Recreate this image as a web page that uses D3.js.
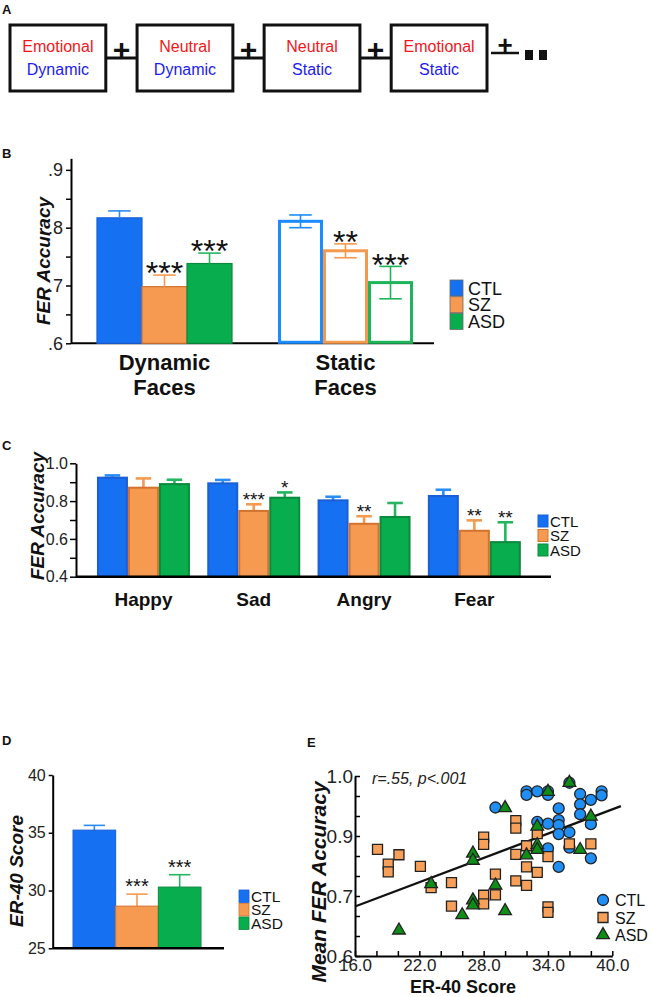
<!DOCTYPE html>
<html><head><meta charset="utf-8">
<script src="https://cdn.jsdelivr.net/npm/d3@7"></script>
<style>body{margin:0;background:#fff}</style>
</head><body><svg id="c" width="652" height="997"></svg>
<script>
// ---------------- DATA ----------------
const groups = ["CTL", "SZ", "ASD"];

// Panel A
const flowTop = ["Emotional", "Neutral", "Neutral", "Emotional"];
const flowBottom = ["Dynamic", "Dynamic", "Static", "Static"];

// Panel B
const bCategories = ["Dynamic Faces", "Static Faces"];
const bMeans = {CTL: [0.817, 0.811], SZ: [0.698, 0.760], ASD: [0.738, 0.705]};
const bErr = {CTL: [0.012, 0.011], SZ: [0.020, 0.012], ASD: [0.018, 0.028]};
const bStars = {CTL: ["", ""], SZ: ["***", "**"], ASD: ["***", "***"]};
const bTicks = [0.6, 0.65, 0.7, 0.75, 0.8, 0.85, 0.9];
const bTickLabels = [".6", "", ".7", "", ".8", "", ".9"];

// Panel C
const cCategories = ["Happy", "Sad", "Angry", "Fear"];
const cMeans = {CTL: [0.924, 0.894, 0.804, 0.827], SZ: [0.871, 0.748, 0.680, 0.643], ASD: [0.890, 0.818, 0.716, 0.583]};
const cErr = {CTL: [0.012, 0.018, 0.019, 0.033], SZ: [0.049, 0.035, 0.040, 0.055], ASD: [0.023, 0.028, 0.074, 0.105]};
const cStars = {CTL: ["", "", "", ""], SZ: ["", "***", "**", "**"], ASD: ["", "*", "", "**"]};
const cTicks = [0.4, 0.5, 0.6, 0.7, 0.8, 0.9, 1.0];
const cTickLabels = ["0.4", "", "0.6", "", "0.8", "", "1.0"];

// Panel D
const dMeans = [35.23, 28.65, 30.30];
const dErr = [0.41, 1.04, 1.07];
const dStars = ["", "***", "***"];
const dTicks = [25, 30, 35, 40];

// Panel E
const eCTL = [[29.1,0.930],[32.0,0.966],[32.0,0.958],[33.0,0.966],[34.0,0.966],[34.0,0.958],[36.0,0.985],[37.0,0.960],[38.0,0.947],[39.0,0.966],[39.0,0.957],[37.0,0.937],[37.0,0.915],[35.0,0.928],[35.0,0.902],[35.0,0.891],[34.0,0.894],[33.0,0.898],[35.0,0.871],[36.0,0.875],[38.0,0.893],[34.0,0.839],[38.0,0.817],[35.0,0.798],[36.0,0.841]];
const eSZ = [[18.1,0.837],[19.1,0.804],[19.1,0.787],[20.1,0.825],[22.1,0.799],[23.1,0.752],[25.0,0.763],[25.0,0.711],[28.0,0.864],[28.0,0.848],[28.0,0.735],[28.0,0.716],[29.1,0.782],[29.1,0.736],[31.0,0.901],[31.0,0.884],[31.0,0.826],[31.0,0.767],[32.0,0.845],[32.0,0.798],[32.0,0.757],[33.0,0.872],[33.0,0.786],[34.0,0.821],[34.0,0.709],[34.0,0.697],[36.0,0.849],[38.0,0.849]];
const eASD = [[20.1,0.657],[23.1,0.760],[27.0,0.828],[27.0,0.812],[26.0,0.691],[27.0,0.724],[27.0,0.713],[29.1,0.757],[30.0,0.700],[30.0,0.929],[32.0,0.824],[33.0,0.888],[33.0,0.847],[33.0,0.836],[34.0,0.965],[36.0,0.985],[37.0,0.836],[38.0,0.910]];
const eFit = [[16.0, 0.710], [40.8, 0.933]];
const eXTicks = [16,18,20,22,24,26,28,30,32,34,36,38,40];
const eXTickLabels = ["16.0","","","22.0","","","28.0","","","34.0","","","40.0"];
const eYTickLabels = ["0.6","","","0.7","","","0.9","","","1.0"];
const eStat = "r=.55, p<.001";

// ---------------- STYLE ----------------
const FONT = '"Liberation Sans", Arial, Helvetica, sans-serif';
const fill = {CTL: "#1670f2", SZ: "#f59a50", ASD: "#08ad4e"};
const edge = {CTL: "#1b5ed6", SZ: "#d27330", ASD: "#0c8a3e"};
const errC = {CTL: "#2b8df4", SZ: "#f59a50", ASD: "#25b560"};
const outline = {CTL: "#1a8cff", SZ: "#f5994d", ASD: "#1db45a"};

const svg = d3.select("#c").attr("font-family", FONT);
svg.append("rect").attr("width", 652).attr("height", 997).attr("fill", "#fff");

function txt(g, s, x, y, o = {}) {
  const t = g.append("text").attr("x", x).attr("y", y).text(s)
    .attr("font-size", o.fs || 16).attr("fill", o.fill || "#111")
    .attr("text-anchor", o.anchor || "start");
  if (o.bold) t.attr("font-weight", "bold");
  if (o.italic) t.attr("font-style", "italic");
  return t;
}
function yLabel(s, cx, cy, fs) {
  svg.append("text").attr("transform", `translate(${cx},${cy}) rotate(-90)`)
    .attr("text-anchor", "middle").attr("dy", "0.35em")
    .attr("font-size", fs).attr("font-weight", "bold").attr("font-style", "italic")
    .attr("fill", "#111").text(s);
}
function styleAxis(g, fs, domainW) {
  g.attr("font-family", FONT);
  g.select(".domain").attr("stroke", "#000").attr("stroke-width", domainW || 2);
  g.selectAll(".tick line").attr("stroke", "#000").attr("stroke-width", 1.5);
  g.selectAll(".tick text").attr("fill", "#222").attr("font-size", fs);
}
function errBar(g, cx, yA, yB, color, sw) {
  g.append("line").attr("x1", cx).attr("x2", cx).attr("y1", yA).attr("y2", yB)
    .attr("stroke", color).attr("stroke-width", sw);
}
function whisker(g, cx, y, hw, color, sw) {
  g.append("line").attr("x1", cx - hw).attr("x2", cx + hw).attr("y1", y).attr("y2", y)
    .attr("stroke", color).attr("stroke-width", sw);
}
function star(g, s, cx, centerY, fs) {
  if (!s) return;
  g.append("text").attr("x", cx).attr("y", centerY + 0.57 * fs).attr("text-anchor", "middle")
    .attr("font-size", fs).attr("fill", "#111").text(s);
}

// ---------------- PANEL A ----------------
const gA = svg.append("g");
txt(gA, "A", 2, 14, {bold: true, fs: 13});
const boxX = d3.scaleBand().domain(d3.range(flowTop.length)).range([10, 487]).paddingInner(0.246).paddingOuter(0);
const boxW = boxX.bandwidth();
for (let i = 0; i < flowTop.length - 1; i++) {
  const x1 = boxX(i) + boxW, x2 = boxX(i + 1);
  gA.append("line").attr("x1", x1).attr("x2", x2).attr("y1", 58).attr("y2", 58).attr("stroke", "#111").attr("stroke-width", 3);
  txt(gA, "+", (x1 + x2) / 2, 60, {fs: 30, bold: true, anchor: "middle"});
}
flowTop.forEach((t, i) => {
  const x = boxX(i);
  gA.append("rect").attr("x", x).attr("y", 25).attr("width", boxW).attr("height", 66)
    .attr("fill", "#fff").attr("stroke", "#111").attr("stroke-width", 3);
  txt(gA, t, x + boxW / 2, 52, {fs: 16, fill: "#f2161b", anchor: "middle"});
  txt(gA, flowBottom[i], x + boxW / 2, 75, {fs: 16, fill: "#1b1bf0", anchor: "middle"});
});
{
  const xe = boxX(flowTop.length - 1) + boxW;
  gA.append("line").attr("x1", xe + 4).attr("x2", xe + 32).attr("y1", 53).attr("y2", 53).attr("stroke", "#111").attr("stroke-width", 2.5);
  txt(gA, "+", xe + 18, 54, {fs: 26, bold: true, anchor: "middle"});
  [0, 1].forEach(k => gA.append("rect").attr("x", xe + 38 + k * 14).attr("y", 50).attr("width", 8).attr("height", 10).attr("fill", "#111"));
}

// ---------------- PANEL B ----------------
const gB = svg.append("g");
txt(gB, "B", 2, 158, {bold: true, fs: 13});
const yB = d3.scaleLinear().domain([0.6, 0.92]).range([343.3, 158.3]);
const xB = d3.scaleBand().domain(bCategories).range([74, 436]).paddingInner(0.254).paddingOuter(0.127);
const xBi = d3.scaleBand().domain(groups).range([0, xB.bandwidth()]);
const axB = gB.append("g").attr("transform", "translate(71,0)")
  .call(d3.axisLeft(yB).tickValues(bTicks).tickFormat((d, i) => bTickLabels[i]).tickSizeInner(5).tickSizeOuter(0).tickPadding(3));
styleAxis(axB, 18);
gB.append("line").attr("x1", 71).attr("x2", 434).attr("y1", yB(0.6)).attr("y2", yB(0.6)).attr("stroke", "#000").attr("stroke-width", 2);
bCategories.forEach((cat, ci) => {
  groups.forEach(gname => {
    const m = bMeans[gname][ci], e = bErr[gname][ci];
    const x = xB(cat) + xBi(gname), w = xBi.bandwidth(), cx = x + w / 2;
    if (ci === 0) {
      gB.append("rect").attr("x", x).attr("y", yB(m)).attr("width", w).attr("height", yB(0.6) - yB(m))
        .attr("fill", fill[gname]).attr("stroke", edge[gname]).attr("stroke-width", 1.2);
      errBar(gB, cx, yB(m), yB(m + e), errC[gname], 1.6);
      whisker(gB, cx, yB(m + e), w / 4, errC[gname], 1.6);
    } else {
      gB.append("rect").attr("x", x + 1.5).attr("y", yB(m)).attr("width", w - 3).attr("height", yB(0.6) - yB(m) - 1)
        .attr("fill", "#fff").attr("stroke", outline[gname]).attr("stroke-width", 3);
      errBar(gB, cx, yB(m - e), yB(m + e), outline[gname], 1.6);
      whisker(gB, cx, yB(m + e), w / 4, outline[gname], 1.6);
      whisker(gB, cx, yB(m - e), w / 4, outline[gname], 1.6);
    }
    star(gB, bStars[gname][ci], cx, yB(m + e) - 9, 32);
  });
  const words = cat.split(" ");
  txt(gB, words[0], xB(cat) + xB.bandwidth() / 2, 370, {fs: 22, bold: true, anchor: "middle"});
  txt(gB, words[1], xB(cat) + xB.bandwidth() / 2, 395, {fs: 22, bold: true, anchor: "middle"});
});
yLabel("FER Accuracy", 43, 261, 19);
groups.forEach((gname, i) => {
  gB.append("rect").attr("x", 450).attr("y", 280 + i * 16.7).attr("width", 13).attr("height", 16)
    .attr("fill", fill[gname]).attr("stroke", "#666").attr("stroke-width", 0.8);
  txt(gB, gname, 468, 288 + i * 16.7 + 6.5, {fs: 18});
});

// ---------------- PANEL C ----------------
const gC = svg.append("g");
txt(gC, "C", 2, 450, {bold: true, fs: 13});
const yC = d3.scaleLinear().domain([0.4, 1.0]).range([576.7, 463.3]);
const xC = d3.scaleBand().domain(cCategories).range([88.3, 529.5]).paddingInner(0.157).paddingOuter(0.0785);
const xCi = d3.scaleBand().domain(groups).range([0, xC.bandwidth()]);
const axC = gC.append("g").attr("transform", "translate(76,0)")
  .call(d3.axisLeft(yC).tickValues(cTicks).tickFormat((d, i) => cTickLabels[i]).tickSizeInner(6).tickSizeOuter(0).tickPadding(2));
styleAxis(axC, 16);
cCategories.forEach((cat, ci) => {
  groups.forEach(gname => {
    const m = cMeans[gname][ci], e = cErr[gname][ci];
    const x = xC(cat) + xCi(gname), w = xCi.bandwidth(), cx = x + w / 2;
    errBar(gC, cx, yC(m), yC(m + e), errC[gname], 2.6);
    whisker(gC, cx, yC(m + e), w / 4, errC[gname], 2.6);
    gC.append("rect").attr("x", x + 1).attr("y", yC(m)).attr("width", w - 2).attr("height", yC(0.4) - yC(m))
      .attr("fill", fill[gname]).attr("stroke", edge[gname]).attr("stroke-width", 2);
    star(gC, cStars[gname][ci], cx, yC(m + e) - 9, 19);
  });
  txt(gC, cat, xC(cat) + xC.bandwidth() / 2, 606, {fs: 19, bold: true, anchor: "middle"});
});
gC.append("line").attr("x1", 76).attr("x2", 551).attr("y1", yC(0.4)).attr("y2", yC(0.4)).attr("stroke", "#000").attr("stroke-width", 2.5);
yLabel("FER Accuracy", 37, 516, 19);
groups.forEach((gname, i) => {
  gC.append("rect").attr("x", 538).attr("y", 515 + i * 14.5).attr("width", 10).attr("height", 12)
    .attr("fill", fill[gname]).attr("stroke", edge[gname]).attr("stroke-width", 1);
  txt(gC, gname, 550, 521 + i * 14.5 + 5.5, {fs: 15});
});

// ---------------- PANEL D ----------------
const gD = svg.append("g");
txt(gD, "D", 2, 745, {bold: true, fs: 13});
const yD = d3.scaleLinear().domain([25, 40]).range([948.3, 775]);
const xD = d3.scaleBand().domain(groups).range([73, 201]);
const axD = gD.append("g").attr("transform", "translate(52.7,0)")
  .call(d3.axisLeft(yD).tickValues(dTicks).tickSizeInner(4).tickSizeOuter(0).tickPadding(3));
styleAxis(axD, 16);
groups.forEach((gname, i) => {
  const m = dMeans[i], e = dErr[i];
  const x = xD(gname), w = xD.bandwidth(), cx = x + w / 2;
  errBar(gD, cx, yD(m), yD(m + e), errC[gname], 1.6);
  whisker(gD, cx, yD(m + e), w / 4, errC[gname], 1.6);
  gD.append("rect").attr("x", x).attr("y", yD(m)).attr("width", w).attr("height", yD(25) - yD(m))
    .attr("fill", fill[gname]).attr("stroke", edge[gname]).attr("stroke-width", 1);
  star(gD, dStars[i], cx, yD(m + e) - 12.5, 20);
});
gD.append("line").attr("x1", 52.7).attr("x2", 224).attr("y1", yD(25)).attr("y2", yD(25)).attr("stroke", "#000").attr("stroke-width", 2.5);
yLabel("ER-40 Score", 16, 871, 19);
groups.forEach((gname, i) => {
  gD.append("rect").attr("x", 239).attr("y", 890 + i * 13.5).attr("width", 10).attr("height", 12.5)
    .attr("fill", fill[gname]).attr("stroke", edge[gname]).attr("stroke-width", 0.8);
  txt(gD, gname, 251, 896 + i * 13.5 + 5.5, {fs: 15.5});
});

// ---------------- PANEL E ----------------
const gE = svg.append("g");
txt(gE, "E", 307, 747, {bold: true, fs: 13});
const xE = d3.scaleLinear().domain([16, 40]).range([355, 612.3]);
const yE = d3.scaleLinear().domain([0.6, 1.0]).range([956, 776]);
const eYTicks = d3.range(eYTickLabels.length).map(i => 0.6 + 0.4 * i / (eYTickLabels.length - 1));
const axEx = gE.append("g").attr("transform", "translate(0,956)")
  .call(d3.axisBottom(xE).tickValues(eXTicks).tickFormat((d, i) => eXTickLabels[i]).tickSizeInner(-5).tickSizeOuter(0).tickPadding(3));
styleAxis(axEx, 17);
const axEy = gE.append("g").attr("transform", "translate(355,0)")
  .call(d3.axisLeft(yE).tickValues(eYTicks).tickFormat((d, i) => eYTickLabels[i]).tickSizeInner(-5).tickSizeOuter(0).tickPadding(2));
styleAxis(axEy, 19);
gE.append("path").datum(eFit).attr("fill", "none").attr("stroke", "#111").attr("stroke-width", 2.2)
  .attr("d", d3.line().x(d => xE(d[0])).y(d => yE(d[1])));
const symCircle = d3.symbol().type(d3.symbolCircle).size(95);
const symSquare = d3.symbol().type(d3.symbolSquare).size(100);
const symTri = d3.symbol().type(d3.symbolTriangle).size(70);
const mk = {
  CTL: {sym: symCircle, fill: "#1f8ef5", data: eCTL},
  SZ: {sym: symSquare, fill: "#f7a05a", data: eSZ},
  ASD: {sym: symTri, fill: "#0e8e16", data: eASD}
};
groups.forEach(gname => {
  gE.append("g").selectAll("path").data(mk[gname].data).join("path")
    .attr("transform", d => `translate(${xE(d[0])},${yE(d[1])})`)
    .attr("d", mk[gname].sym()).attr("fill", mk[gname].fill)
    .attr("stroke", "#222").attr("stroke-width", 1.3);
});
txt(gE, eStat, 372, 784, {fs: 16, italic: true, fill: "#222"});
groups.forEach((gname, i) => {
  const cy = 900 + i * 17.5;
  gE.append("path").attr("transform", `translate(603,${cy})`).attr("d", mk[gname].sym())
    .attr("fill", mk[gname].fill).attr("stroke", "#222").attr("stroke-width", 1.3);
  txt(gE, gname, 615, cy + 6, {fs: 16});
});
yLabel("Mean FER Accuracy", 319, 882, 21);
txt(gE, "ER-40 Score", 463, 993, {fs: 18, bold: true, anchor: "middle"});
</script></body></html>
